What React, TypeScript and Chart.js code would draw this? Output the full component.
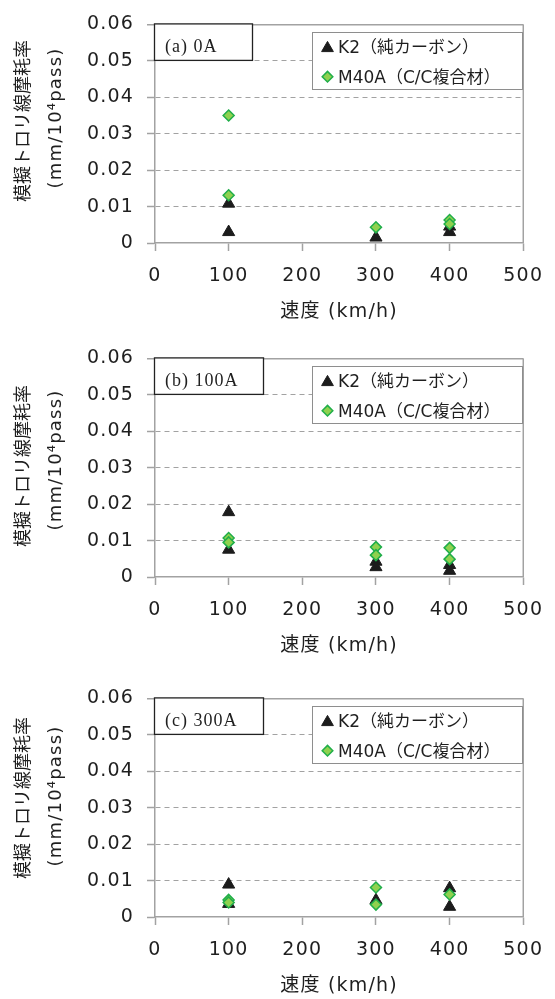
import React, { useEffect, useRef } from 'react';
import { Chart, registerables } from 'chart.js';

Chart.register(...registerables);

// ---------- data ----------
const xTickValues = [0, 100, 200, 300, 400, 500];
const yTickValues = [0, 0.01, 0.02, 0.03, 0.04, 0.05, 0.06];
const yTickLabels = ['0', '0.01', '0.02', '0.03', '0.04', '0.05', '0.06'];
const panelLabels = ['(a) 0A', '(b) 100A', '(c) 300A'];
const seriesNames = ['K2（純カーボン）', 'M40A（C/C複合材）'];
const xTitle = '速度 (km/h)';
const yTitleLine1 = '模擬トロリ線摩耗率';
const yTitleLine2 = '(mm/10⁴pass)';

// (a) 0A
const k2SpeedA = [100, 100, 300, 400, 400];
const k2RateA = [0.0108, 0.003, 0.0015, 0.0045, 0.003];
const m40SpeedA = [100, 100, 300, 400, 400];
const m40RateA = [0.035, 0.0131, 0.0043, 0.0063, 0.0052];

// (b) 100A
const k2SpeedB = [100, 100, 300, 300, 400, 400];
const k2RateB = [0.0178, 0.0075, 0.0042, 0.0027, 0.0033, 0.0017];
const m40SpeedB = [100, 100, 300, 300, 400, 400];
const m40RateB = [0.0107, 0.0095, 0.0082, 0.006, 0.008, 0.0049];

// (c) 300A
const k2SpeedC = [100, 100, 300, 400, 400];
const k2RateC = [0.0089, 0.0036, 0.0046, 0.0079, 0.0028];
const m40SpeedC = [100, 100, 300, 300, 400];
const m40RateC = [0.0047, 0.004, 0.0081, 0.0034, 0.0062];

// ---------- style ----------
const FONT = '"DejaVu Sans", "Noto Sans CJK JP", sans-serif';
const AXIS = '#a2a2a2';
const GRID = '#a2a2a2';
const TEXT = '#1f1f1f';
const K2_COLOR = '#1c1c1c';
const M40_FILL = '#8fd14f';
const M40_EDGE = '#20ae4a';

const PANEL_TOPS = [0, 334, 674];
const CANVAS_H = 334;
const LABEL_BOX_W = [98, 109, 109];
const YTITLE_C1 = [121, 132, 124];
const YTITLE_C2 = [118, 126, 122];

const toPts = (xs: number[], ys: number[]) => xs.map((x, i) => ({ x, y: ys[i] }));

const PANELS = [
  { k2: toPts(k2SpeedA, k2RateA), m40: toPts(m40SpeedA, m40RateA) },
  { k2: toPts(k2SpeedB, k2RateB), m40: toPts(m40SpeedB, m40RateB) },
  { k2: toPts(k2SpeedC, k2RateC), m40: toPts(m40SpeedC, m40RateC) },
];

function drawTriangle(ctx: CanvasRenderingContext2D, x: number, y: number, r: number) {
  // y is bbox centre
  const h = 1.5 * r;
  const w = Math.sqrt(3) * r;
  ctx.beginPath();
  ctx.moveTo(x, y - h / 2);
  ctx.lineTo(x + w / 2, y + h / 2);
  ctx.lineTo(x - w / 2, y + h / 2);
  ctx.closePath();
  ctx.fillStyle = K2_COLOR;
  ctx.fill();
  ctx.strokeStyle = K2_COLOR;
  ctx.lineWidth = 1;
  ctx.stroke();
}

function drawDiamond(ctx: CanvasRenderingContext2D, x: number, y: number, r: number) {
  ctx.beginPath();
  ctx.moveTo(x - r, y);
  ctx.lineTo(x, y - r);
  ctx.lineTo(x + r, y);
  ctx.lineTo(x, y + r);
  ctx.closePath();
  ctx.fillStyle = M40_FILL;
  ctx.fill();
  ctx.strokeStyle = M40_EDGE;
  ctx.lineWidth = 1.5;
  ctx.stroke();
}

function Panel({ idx }: { idx: number }) {
  const ref = useRef<HTMLCanvasElement | null>(null);

  useEffect(() => {
    const canvas = ref.current;
    if (!canvas) return;
    const data = PANELS[idx];

    const decor = {
      id: 'decor' + idx,
      beforeDraw(chart: any) {
        (chart.ctx as any).letterSpacing = '1.2px';
      },
      afterDraw(chart: any) {
        const ctx: CanvasRenderingContext2D = chart.ctx;
        const a = chart.chartArea;
        ctx.save();
        // right frame line
        ctx.strokeStyle = AXIS;
        ctx.lineWidth = 1.5;
        ctx.beginPath();
        ctx.moveTo(a.right, a.top);
        ctx.lineTo(a.right, a.bottom);
        ctx.stroke();

        // panel label box
        const bx = 154.5;
        const by = a.top - 0.5;
        const bw = LABEL_BOX_W[idx];
        const bh = 36.5;
        ctx.fillStyle = '#ffffff';
        ctx.fillRect(bx, by, bw, bh);
        ctx.strokeStyle = '#222222';
        ctx.lineWidth = 1.3;
        ctx.strokeRect(bx, by, bw, bh);
        (ctx as any).letterSpacing = '1px';
        ctx.fillStyle = TEXT;
        ctx.font = '18px "Liberation Serif", "Times New Roman", serif';
        ctx.textAlign = 'left';
        ctx.textBaseline = 'alphabetic';
        ctx.fillText(panelLabels[idx], 165, by + 27.8);

        // legend box
        const lx = 312.5;
        const ly = 32.5;
        const lw = 210;
        const lh = 57;
        ctx.fillStyle = '#ffffff';
        ctx.fillRect(lx, ly, lw, lh);
        ctx.strokeStyle = '#8e8e8e';
        ctx.lineWidth = 1;
        ctx.strokeRect(lx, ly, lw, lh);
        drawTriangle(ctx, 327.5, 46.5, 6.8);
        drawDiamond(ctx, 327.5, 76.7, 5.3);
        (ctx as any).letterSpacing = '0px';
        ctx.fillStyle = TEXT;
        ctx.font = '17px ' + FONT;
        ctx.textAlign = 'left';
        ctx.textBaseline = 'alphabetic';
        ctx.fillText(seriesNames[0], 338, 53.3);
        ctx.fillText(seriesNames[1], 338, 83.3);

        // y-axis title (two lines, rotated)
        ctx.textAlign = 'center';
        ctx.textBaseline = 'middle';
        ctx.save();
        ctx.translate(22.5, YTITLE_C1[idx]);
        ctx.rotate(-Math.PI / 2);
        (ctx as any).letterSpacing = '0px';
        ctx.font = '18px "Noto Sans CJK JP", ' + FONT;
        ctx.fillText(yTitleLine1, 0, 0);
        ctx.restore();
        ctx.save();
        ctx.translate(56, YTITLE_C2[idx]);
        ctx.rotate(-Math.PI / 2);
        (ctx as any).letterSpacing = '1.2px';
        ctx.font = '18px ' + FONT;
        ctx.fillText(yTitleLine2, 0, 0);
        ctx.restore();

        ctx.restore();
        (ctx as any).letterSpacing = '1.2px';
      },
    };

    const chart = new Chart(canvas, {
      type: 'scatter',
      data: {
        datasets: [
          {
            label: seriesNames[0],
            data: data.k2,
            order: 2,
            pointStyle: 'triangle',
            pointRadius: 7,
            pointBackgroundColor: K2_COLOR,
            pointBorderColor: K2_COLOR,
            pointBorderWidth: 1,
            showLine: false,
          },
          {
            label: seriesNames[1],
            data: data.m40,
            order: 1,
            pointStyle: 'rectRot',
            pointRadius: 5.5,
            pointBackgroundColor: M40_FILL,
            pointBorderColor: M40_EDGE,
            pointBorderWidth: 1.5,
            showLine: false,
          },
        ],
      },
      options: {
        animation: false,
        responsive: false,
        maintainAspectRatio: false,
        devicePixelRatio: 1,
        events: [],
        layout: { padding: { top: 20, right: 24, left: 0, bottom: 0 } },
        plugins: {
          legend: { display: false },
          tooltip: { enabled: false },
        },
        scales: {
          x: {
            type: 'linear',
            min: 0,
            max: 500,
            afterBuildTicks: (s: any) => {
              s.ticks = xTickValues.map((v) => ({ value: v }));
            },
            afterFit: (s: any) => {
              s.height = 91;
            },
            grid: {
              display: true,
              drawOnChartArea: false,
              drawTicks: true,
              tickLength: 8,
              tickColor: AXIS,
              tickWidth: 1.5,
              color: GRID,
            },
            border: { display: true, color: AXIS, width: 1.5 },
            ticks: {
              autoSkip: false,
              maxRotation: 0,
              padding: 13.6,
              color: TEXT,
              font: { family: FONT, size: 19 },
              callback: (v: any) => String(v),
            },
            title: {
              display: true,
              text: xTitle,
              color: TEXT,
              font: { family: FONT, size: 19 },
              padding: { top: 0, bottom: 10.6 },
            },
          },
          y: {
            type: 'linear',
            min: 0,
            max: 0.06,
            afterBuildTicks: (s: any) => {
              s.ticks = yTickValues.map((v) => ({ value: v }));
            },
            afterFit: (s: any) => {
              s.width = 155;
            },
            grid: {
              display: true,
              drawOnChartArea: true,
              drawTicks: true,
              tickLength: 8,
              tickColor: AXIS,
              tickWidth: 1.5,
              color: (c: any) => (c.index === 0 ? 'rgba(0,0,0,0)' : GRID),
              lineWidth: (c: any) => (c.index === yTickValues.length - 1 ? 1.5 : 1),
            },
            border: {
              display: true,
              color: AXIS,
              width: 1.5,
              dash: (c: any) => (c.index === yTickValues.length - 1 ? [] : [5, 4]),
            },
            ticks: {
              autoSkip: false,
              padding: 13,
              color: TEXT,
              font: { family: FONT, size: 19 },
              callback: (_v: any, i: number) => yTickLabels[i],
            },
          },
        },
      },
      plugins: [decor],
    } as any);

    return () => {
      chart.destroy();
    };
  }, [idx]);

  return (
    <div
      style={{
        position: 'absolute',
        left: 0,
        top: PANEL_TOPS[idx],
        width: 555,
        height: CANVAS_H,
      }}
    >
      <canvas ref={ref} width={555} height={CANVAS_H} style={{ width: 555, height: CANVAS_H, display: 'block' }} />
    </div>
  );
}

export default function App() {
  return (
    <div
      style={{
        position: 'fixed',
        left: 0,
        top: 0,
        width: 555,
        height: 999,
        overflow: 'hidden',
        background: '#ffffff',
      }}
    >
      <Panel idx={2} />
      <Panel idx={1} />
      <Panel idx={0} />
    </div>
  );
}
